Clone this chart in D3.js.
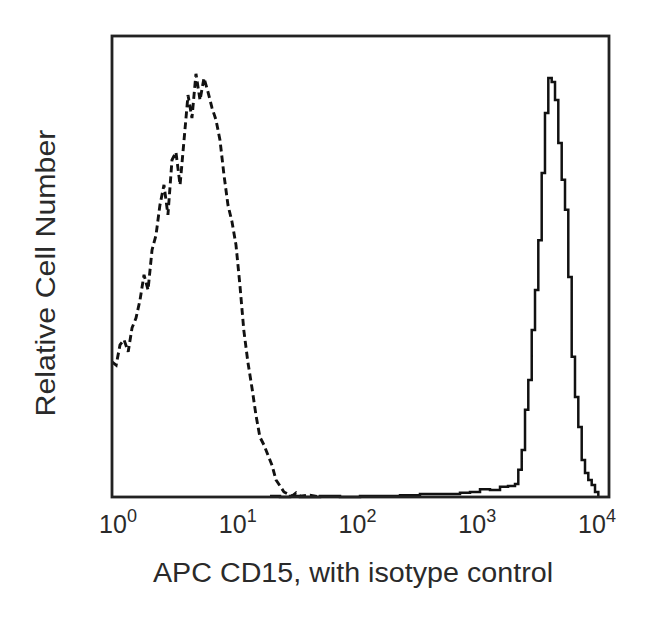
<!DOCTYPE html>
<html>
<head>
<meta charset="utf-8">
<script src="https://cdn.jsdelivr.net/npm/d3@7"></script>
<style>
    body { margin: 0; background: #fff; }
    text { font-family: "Liberation Sans", Arial, sans-serif; fill: #2a2a2a; }
</style>
</head>
<body>
<script>
//isotype control histogram (dashed), intensity and relative count
var isoX = [1.00,1.08,1.16,1.25,1.35,1.45,1.56,1.68,1.81,1.95,2.10,2.26,2.43,2.62,2.82,3.04,3.27,3.53,3.80,4.09,
    4.40,4.74,5.11,5.50,5.92,6.38,6.87,7.40,7.97,8.58,9.24,9.95,10.7,11.5,12.4,13.4,14.4,15.5,16.7,18.0,
    19.4,20.9,22.5,24.2,26.1,28.1,30.3,32.6,39.2,47.2];
var isoCount = [29.3,28.6,33.0,34.1,31.5,36.7,38.8,42.7,48.2,44.9,53.6,56.8,63.3,67.7,61.2,73.1,74.8,67.7,77.4,87.2,
    82.2,91.8,86.1,90.9,87.9,84.4,81.8,77.4,69.8,63.3,59.7,54.7,46.0,36.2,29.3,23.6,17.8,13.0,11.3,9.1,
    6.9,3.7,2.4,1.1,0.65,0.2,0.9,0.2,0.4,0];

//APC CD15 histogram (solid)
var cd15X = [18.7,22.5,27.1,32.6,47.2,68.4,99.1,144,208,301,436,632,761,916,1102,1327,1539,
    1752,1862,1984,2109,2241,2388,2538,2698,2873,3053,3247,3458,3677,3908,4162,4425,4703,5009,
    5325,5662,6030,6410,6814,7257,7716,8203];
var cd15Count = [0.2,0,0.2,0,0.2,0,0.2,0.2,0.4,0.65,0.65,0.9,1.1,1.7,1.5,2.2,2.4,
    2.8,5.9,10.2,18.9,25.4,36.2,44.9,55.7,70.3,83.3,90.9,90.0,86.1,76.8,68.8,62.3,47.7,30.4,
    21.7,15.2,8.0,5.2,3.7,2.6,1.1,0];

//axis ticks
var tickValues = [1, 10, 100, 1000, 10000];
var tickExponents = ["0", "1", "2", "3", "4"];

window.onload = function(){

    var w = 650, h = 622;
    var left = 112, right = 609, top = 36, bottom = 497;

    var svg = d3.select("body")
        .append("svg")
        .attr("width", w)
        .attr("height", h)
        .style("background-color", "#fff");

    //log scale for fluorescence
    var x = d3.scaleLog()
        .domain([1, 10000])
        .range([left, right]);

    //labels in the reference sit slightly inward of their ticks
    var xLabel = d3.scaleLog()
        .domain([1, 10000])
        .range([118, 597]);

    var y = d3.scaleLinear()
        .domain([0, 100])
        .range([bottom, top]);

    var isoData = isoX.map(function(d, i){ return [d, isoCount[i]]; });
    var cd15Data = cd15X.map(function(d, i){ return [d, cd15Count[i]]; });

    var lineIso = d3.line()
        .x(function(d){ return x(d[0]); })
        .y(function(d){ return y(d[1]); });

    var lineCd15 = d3.line()
        .curve(d3.curveStepAfter)
        .x(function(d){ return x(d[0]); })
        .y(function(d){ return y(d[1]); });

    //solid histogram
    svg.append("path")
        .datum(cd15Data)
        .attr("d", lineCd15)
        .style("fill", "none")
        .style("stroke", "#111")
        .style("stroke-width", 2.5);

    //dashed histogram
    svg.append("path")
        .datum(isoData)
        .attr("d", lineIso)
        .style("fill", "none")
        .style("stroke", "#111")
        .style("stroke-width", 2.9)
        .style("stroke-dasharray", "7,4");

    //frame
    svg.append("rect")
        .attr("x", left)
        .attr("y", top)
        .attr("width", right - left)
        .attr("height", bottom - top)
        .style("fill", "none")
        .style("stroke", "#222")
        .style("stroke-width", 2.8);

    //tick labels, 10 with a superscript exponent
    var labels = svg.selectAll(".tickLabel")
        .data(tickValues)
        .enter()
        .append("text")
        .attr("class", "tickLabel")
        .attr("text-anchor", "middle")
        .attr("x", function(d){ return xLabel(d); })
        .attr("y", 533)
        .style("font-size", "25px");

    labels.append("tspan")
        .text("10");

    labels.append("tspan")
        .attr("dy", -11)
        .style("font-size", "18px")
        .text(function(d, i){ return tickExponents[i]; });

    //x axis title
    svg.append("text")
        .attr("text-anchor", "middle")
        .attr("x", 353)
        .attr("y", 582)
        .attr("textLength", 400)
        .attr("lengthAdjust", "spacingAndGlyphs")
        .style("font-size", "27px")
        .text("APC CD15, with isotype control");

    //y axis title
    svg.append("text")
        .attr("text-anchor", "middle")
        .attr("transform", "translate(55,273) rotate(-90)")
        .attr("textLength", 287)
        .attr("lengthAdjust", "spacingAndGlyphs")
        .style("font-size", "28px")
        .text("Relative Cell Number");
};
</script>
</body>
</html>
